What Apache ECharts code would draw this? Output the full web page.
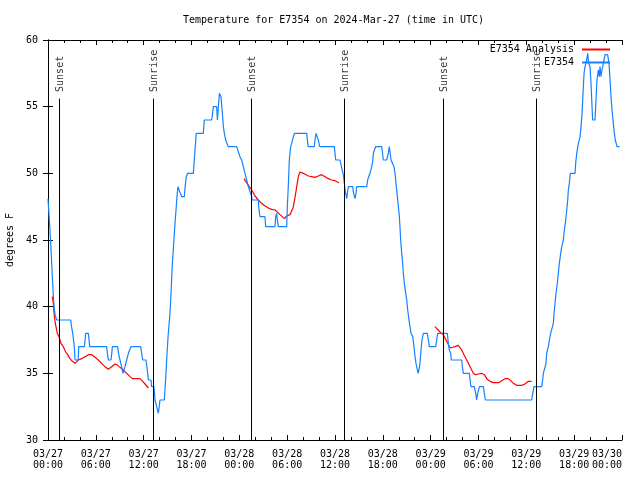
<!DOCTYPE html>
<html>
<head>
<meta charset="utf-8">
<script src="https://cdn.jsdelivr.net/npm/echarts@6/dist/echarts.min.js"></script>
<style>html,body{margin:0;padding:0;background:#fff}#c{width:640px;height:480px}</style>
</head>
<body>
<div id="c"></div>
<script>
// hours since 2024-03-27 00:00 UTC, temperature in degrees F
const e7354 = [
  [0,48.1],[0.05,47.6],[0.17,46.5],[0.29,45.3],[0.42,43.8],[0.54,42.3],[0.67,40.8],[0.79,39.8],[0.92,39.3],[1.1,39],
  [2.85,39],[2.95,38.5],[3.1,38],[3.2,37.5],[3.3,37],[3.39,36],[3.8,36],[3.85,37],[4.56,37],[4.65,37.5],[4.72,38],
  [5.06,38],[5.15,37.5],[5.23,37],[7.36,37],[7.45,36.5],[7.57,36],[7.9,36],[8.0,36.5],[8.07,37],[8.74,37],[8.85,36.5],
  [9.03,36],[9.24,35.5],[9.4,35],[9.53,35],[9.66,35.5],[9.87,36],[10.08,36.5],[10.41,37],[11.63,37],[11.75,36.5],
  [11.88,36],[12.29,36],[12.4,35.5],[12.5,35],[12.6,34.5],[12.92,34.5],[13.0,34],[13.3,34],[13.42,33],[13.63,32.5],
  [13.84,32],[13.95,32.5],[14.05,33],[14.59,33],[14.7,34],[14.8,35],[14.93,36.5],[15.09,38],[15.3,39.5],[15.43,41],
  [15.6,43.25],[15.77,44.75],[15.93,46.25],[16.06,47.25],[16.18,48.25],[16.3,49],[16.47,49],[16.6,48.5],[16.77,48.25],
  [17.1,48.25],[17.2,49],[17.35,49.75],[17.52,50],[18.23,50],[18.35,51],[18.44,51.75],[18.6,53],[19.48,53],[19.6,54],
  [20.53,54],[20.6,54.25],[20.74,55],[21.16,55],[21.25,54],[21.37,55],[21.5,56],[21.58,56],[21.7,55.75],[21.87,54.5],
  [22.0,53.5],[22.12,53],[22.29,52.5],[22.62,52],[23.67,52],[23.8,51.75],[24.08,51.25],[24.29,51],[24.5,50.5],
  [24.71,50],[24.92,49.5],[25.13,49],[25.34,49],[25.55,48.25],[25.6,48],[26.38,48],[26.47,47.25],[26.59,46.75],
  [27.22,46.75],[27.3,46],[28.47,46],[28.56,46.75],[28.69,47],[28.77,46.5],[28.89,46],[29.94,46],[30.02,47.5],
  [30.14,49],[30.27,51],[30.44,52],[30.57,52.25],[30.78,52.75],[30.9,53],[32.45,53],[32.58,52.25],[32.66,52],
  [33.41,52],[33.49,52.5],[33.62,53],[33.83,53],[33.91,52.5],[34.08,52],[35.92,52],[36.0,51.5],[36.09,51],
  [36.63,51],[36.84,50.4],[37.05,49.9],[37.17,49.25],[37.3,48.6],[37.47,48.1],[37.55,48.5],[37.67,49],[38.22,49],
  [38.3,48.6],[38.51,48.1],[38.64,48.5],[38.72,49],[39.98,49],[40.1,49.5],[40.23,49.75],[40.39,50],[40.6,50.5],
  [40.73,50.9],[40.81,51.5],[40.94,51.75],[41.1,52],[41.86,52],[41.94,51.6],[42.06,51],[42.48,51],[42.69,51.5],
  [42.81,52],[42.9,51.6],[43.03,51],[43.24,50.9],[43.4,50.5],[43.53,50],[43.65,49.25],[43.82,48.25],[43.95,47.5],
  [44.07,46.75],[44.15,46],[44.24,45],[44.37,44],[44.49,43.25],[44.57,42.5],[44.7,41.75],[44.87,41],[45.0,40.5],
  [45.12,39.75],[45.28,39],[45.41,38.5],[45.53,38],[45.75,37.75],[45.91,37],[46.04,36.25],[46.16,35.75],[46.33,35.25],
  [46.45,35],[46.58,35],[46.66,35.75],[46.79,36.75],[46.91,37.5],[47.08,38],[47.58,38],[47.71,37.5],[47.83,37],
  [48.63,37],[48.75,37.5],[48.88,38],[50.09,38],[50.22,37.25],[50.34,36.75],[50.51,36.5],[50.59,36],[51.89,36],
  [51.97,35.5],[52.1,35],[52.85,35],[52.94,34.5],[53.06,34],[53.48,34],[53.65,33.5],[53.77,33],[53.9,33.5],
  [54.11,34],[54.61,34],[54.74,33.5],[54.86,33],[60.67,33],[60.8,33.5],[60.96,34],[61.93,34],[62.05,34.5],
  [62.13,35],[62.34,35],[62.47,35.75],[62.55,36.5],[62.76,37],[62.89,37.5],[63.05,38],[63.3,38],[63.39,38.75],
  [63.47,39.5],[63.6,40.25],[63.72,41],[63.89,41.75],[64.01,42.5],[64.14,43.25],[64.31,44],[64.44,44.5],[64.64,45],
  [64.77,45.75],[64.94,46.5],[65.07,47.25],[65.19,48],[65.27,48.75],[65.39,49.25],[65.52,50],[66.11,50],[66.19,50.75],
  [66.32,51.5],[66.53,52.25],[66.74,52.75],[66.86,53.5],[66.99,54.5],[67.07,55.5],[67.15,56.5],[67.24,57.5],
  [67.36,58],[67.49,58.25],[67.7,59],[67.82,58.25],[67.99,58],[68.11,56.75],[68.24,55],[68.32,54],[68.61,54],
  [68.74,55.5],[68.86,57],[69.03,57.75],[69.15,57.25],[69.24,58],[69.37,57.25],[69.49,57.75],[69.66,58.25],
  [69.87,58.9],[70.08,59],[70.2,58.9],[70.37,58.25],[70.5,57],[70.62,55.75],[70.75,54.75],[70.91,53.75],
  [71.04,53],[71.16,52.5],[71.37,52],[71.7,52]
];
const analysisNight1 = [
  [0.54,40.75],[0.67,40.25],[0.79,39.25],[0.92,38.75],[1.17,38],[1.38,37.75],[1.63,37.25],[1.92,37],[2.22,36.6],
  [2.47,36.4],[2.76,36.1],[3.05,35.9],[3.39,35.75],[3.6,35.9],[3.8,36],[4.22,36.1],[4.64,36.25],[5.06,36.4],
  [5.48,36.4],[5.9,36.2],[6.31,36],[6.73,35.75],[7.15,35.5],[7.57,35.3],[7.99,35.5],[8.4,35.7],[8.74,35.6],
  [9.03,35.45],[9.45,35.25],[9.87,35],[10.29,34.75],[10.58,34.6],[11.54,34.6],[11.88,34.4],[12.17,34.2],[12.59,33.9]
];
const analysisNight2 = [
  [24.58,49.6],[25.13,49.1],[25.55,48.75],[25.97,48.3],[26.38,48],[26.8,47.75],[27.22,47.55],[27.64,47.4],
  [28.06,47.3],[28.47,47.25],[28.69,47.1],[29.1,46.9],[29.65,46.6],[29.94,46.8],[30.36,46.9],[30.57,47],
  [30.78,47.5],[31.0,48.25],[31.2,49],[31.4,49.75],[31.61,50.1],[32.03,50],[32.66,49.8],[33.08,49.75],
  [33.49,49.7],[33.91,49.8],[34.33,49.9],[34.75,49.75],[35.16,49.6],[35.58,49.5],[36.0,49.45],[36.5,49.3]
];
const analysisNight3 = [
  [48.54,38.5],[49.17,38.1],[49.59,37.9],[50.01,37.4],[50.43,36.9],[50.64,36.9],[51.05,37],[51.47,37.1],
  [51.68,37.05],[51.89,36.75],[52.18,36.4],[52.52,36],[52.94,35.5],[53.35,35],[53.65,34.9],[53.98,34.95],
  [54.4,35],[54.74,34.9],[55.03,34.6],[55.44,34.4],[55.86,34.3],[56.49,34.3],[56.91,34.45],[57.33,34.6],
  [57.74,34.6],[58.03,34.45],[58.37,34.25],[58.79,34.1],[59.41,34.1],[59.83,34.2],[60.25,34.4],[60.67,34.4]
];
const sunHours = [1.42, 13.21, 25.46, 37.17, 49.59, 61.26];
const sunNames = ['Sunset', 'Sunrise', 'Sunset', 'Sunrise', 'Sunset', 'Sunrise'];
const sunLineTop = 55.6;
const sunLabelBase = 56.1;
const xMin = 0, xMax = 72, xStep = 6;
const yMin = 30, yMax = 60, yStep = 5;
const dayLabels = ['03/27', '03/28', '03/29', '03/30'];

const FONT = 'DejaVu Sans Mono';
const BLUE = '#1482ff';
const RED = '#ff0000';

function xLabel(v) {
  const d = Math.floor(v / 24 + 1e-9);
  const h = Math.round(v - d * 24);
  return dayLabels[d] + '\n' + (h < 10 ? '0' : '') + h + ':00';
}

const chart = echarts.init(document.getElementById('c'), null, {renderer: 'canvas'});
const axisLine = {show: true, lineStyle: {color: '#000', width: 1}};
const redSeries = [analysisNight1, analysisNight2, analysisNight3].map(d => ({
  name: 'E7354 Analysis', type: 'line', data: d, symbol: 'none', showSymbol: false,
  lineStyle: {color: RED, width: 1.2}, itemStyle: {color: RED}, silent: true, z: 3
}));
chart.setOption({
  animation: false,
  backgroundColor: '#fff',
  title: {
    text: 'Temperature for E7354 on 2024-Mar-27 (time in UTC)',
    left: 183, top: 15, padding: 0,
    textStyle: {fontFamily: FONT, fontSize: 10, fontWeight: 'normal', color: '#000'}
  },
  legend: {
    data: [
      {name: 'E7354 Analysis', icon: 'rect', itemStyle: {color: RED, borderWidth: 0}},
      {name: 'E7354', icon: 'rect', itemStyle: {color: BLUE, borderWidth: 0}}
    ],
    orient: 'vertical', align: 'right', right: 30, top: 43, padding: 0,
    itemWidth: 28, itemHeight: 2, itemGap: 0,
    selectedMode: false,
    textStyle: {fontFamily: FONT, fontSize: 10, color: '#000', lineHeight: 13, padding: [0, 3, 0, 0]}
  },
  grid: {left: 48, right: 18, top: 40, bottom: 40, outerBoundsMode: 'none', containLabel: false},
  xAxis: [{
    type: 'value', min: xMin, max: xMax, interval: xStep, position: 'bottom',
    axisLine: axisLine,
    axisTick: {show: true, inside: true, length: 5, lineStyle: {color: '#000'}},
    minorTick: {show: true, splitNumber: 3, length: 3, lineStyle: {color: '#000'}},
    splitLine: {show: false},
    axisLabel: {formatter: xLabel, fontFamily: FONT, fontSize: 10, lineHeight: 11, color: '#000', margin: 9, alignMaxLabel: 'right'}
  }, {
    type: 'value', min: xMin, max: xMax, interval: xStep, position: 'top',
    axisLine: axisLine,
    axisTick: {show: true, inside: true, length: 5, lineStyle: {color: '#000'}},
    minorTick: {show: true, splitNumber: 3, length: 3, lineStyle: {color: '#000'}},
    splitLine: {show: false}, axisLabel: {show: false}
  }],
  yAxis: [{
    type: 'value', min: yMin, max: yMax, interval: yStep, position: 'left',
    name: 'degrees F', nameLocation: 'middle', nameRotate: 90, nameGap: 33,
    nameTextStyle: {fontFamily: FONT, fontSize: 10, color: '#000'},
    axisLine: axisLine,
    axisTick: {show: true, inside: true, length: 5, lineStyle: {color: '#000'}},
    splitLine: {show: false},
    axisLabel: {fontFamily: FONT, fontSize: 10, color: '#000', margin: 10}
  }, {
    type: 'value', min: yMin, max: yMax, interval: yStep, position: 'right',
    axisLine: axisLine,
    axisTick: {show: true, inside: true, length: 5, lineStyle: {color: '#000'}},
    splitLine: {show: false}, axisLabel: {show: false}
  }],
  series: redSeries.concat([{
    name: 'E7354', type: 'line', data: e7354, symbol: 'none', showSymbol: false,
    lineStyle: {color: BLUE, width: 1.2}, itemStyle: {color: BLUE}, silent: true, z: 4
  }, {
    name: 'sun', type: 'scatter', symbolSize: 0.1, silent: true,
    itemStyle: {color: 'rgba(0,0,0,0)'},
    data: sunHours.map(h => [h, sunLabelBase]),
    label: {
      show: true, position: [0, 0], rotate: 90, align: 'left', verticalAlign: 'middle',
      offset: [0, 1],
      formatter: p => sunNames[p.dataIndex],
      fontFamily: FONT, fontSize: 10, color: '#000'
    },
    markLine: {
      silent: true, symbol: ['none', 'none'], label: {show: false},
      lineStyle: {color: '#000', width: 1, type: 'solid'},
      emphasis: {disabled: true},
      data: sunHours.map(h => [{coord: [h, yMin]}, {coord: [h, sunLineTop]}])
    },
    z: 2
  }])
});
</script>
</body>
</html>
